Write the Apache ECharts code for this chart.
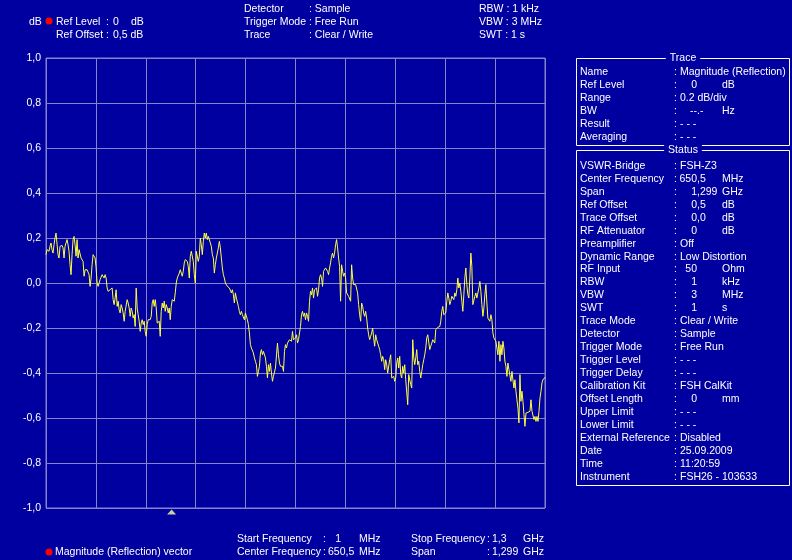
<!DOCTYPE html>
<html><head><meta charset="utf-8">
<script src="https://cdn.jsdelivr.net/npm/echarts@6/dist/echarts.min.js"></script>
<style>html,body{margin:0;padding:0;background:#0000a0}#c{width:792px;height:560px}</style>
</head><body><div id="c"></div>
<script>
// ---- data ----
const startFreqMHz = 1;
const stopFreqMHz = 1300;
const traceSegA = [0.126,0.148,0.156,0.141,0.163,0.178,0.148,0.133,0.170,0.200,
0.222,0.215,0.126,0.111,0.163,0.170,0.167,0.156,0.111,0.163,
0.178,0.193,0.170,0.141,0.081,0.037,0.126,0.193,0.207,0.170,
0.119,0.193,0.111,0.148,0.141,0.111,0.119,0.096,0.030,0.059,
0.067,0.059,0.052,0.037,-0.015,0.022,0.081,0.126,0.119,0.111,
0.067,0.000,-0.015,0.000,0.015,0.022,0.037,0.044,0.022,0.037,
0.022,-0.022,-0.037,-0.037,-0.030,-0.037,-0.022,-0.074,-0.096,-0.067,
-0.030,-0.104,-0.081,-0.119,-0.133,-0.096,-0.111,-0.133,-0.170,-0.126,
-0.133,-0.074,-0.089,-0.111,-0.148,-0.111,-0.126,-0.156,-0.141,-0.193,
-0.022,-0.111,-0.141,-0.170,-0.215,-0.178,-0.163,-0.185,-0.170,-0.215,
-0.237,-0.185,-0.163,-0.156,-0.163,-0.148,-0.089,-0.074,-0.104,-0.074,
-0.111,-0.178,-0.185,-0.170,-0.237,-0.126,-0.089,-0.111,-0.081,-0.126,
-0.096,-0.111,-0.133,-0.111,-0.163,-0.104,-0.074,-0.081];
const traceSegB = [-0.081,-0.044,0.000,0.022,0.030,0.044,0.059,0.044,0.030,0.052,
0.089,0.104,0.111,0.096,0.074,0.022,0.119,0.141,0.133,0.096,
0.037,0.000,0.141,0.141,0.096,0.119,0.200,0.170,0.126,0.185,
0.222,0.200,0.222,0.193,0.207,0.200,0.178,0.163,0.126,0.111,
0.044,0.081,0.111,0.119,0.156,0.185,0.156,0.111,0.067,0.037,
0.022,0.000,-0.007,-0.015,-0.015,-0.022,-0.030,-0.044,-0.030,-0.052,
-0.089,-0.044,-0.067,-0.059,-0.104,-0.126,-0.141,-0.126,-0.141,-0.148,
-0.163,-0.133,-0.141,-0.163,-0.185,-0.222,-0.274,-0.289,-0.281,-0.311,
-0.333,-0.348,-0.363,-0.415,-0.393,-0.370,-0.311,-0.296,-0.319,-0.304,
-0.311,-0.333,-0.370,-0.422,-0.363,-0.393,-0.356,-0.400,-0.437,-0.415,
-0.415,-0.378,-0.370,-0.267,-0.319,-0.356,-0.370,-0.363,-0.370,-0.393,
-0.304,-0.274,-0.289,-0.267,-0.259,-0.252,-0.244,-0.259,-0.215,-0.252,
-0.252,-0.244,-0.230,-0.267,-0.252,-0.222];
const traceSegC = [-0.193,-0.141,-0.126,-0.148,-0.133,-0.163,-0.133,-0.148,-0.170,-0.081,
-0.037,-0.052,-0.022,-0.067,-0.030,-0.037,-0.022,-0.059,-0.030,0.022,
0.037,0.022,-0.015,0.052,0.044,0.067,0.059,0.052,0.037,0.067,
0.089,0.119,0.133,0.111,0.133,0.170,0.193,0.156,0.111,0.074,
-0.081,0.081,0.052,0.030,0.044,0.022,-0.044,-0.052,-0.059,-0.067,
-0.081,0.081,0.022,-0.007,0.000,-0.007,-0.007,-0.044,-0.096,-0.141,
-0.170,-0.089,-0.104,-0.133,-0.148,-0.126,-0.156,-0.200,-0.230,-0.252,
-0.237,-0.222,-0.200,-0.244,-0.281,-0.230,-0.252,-0.244,-0.281,-0.296,
-0.319,-0.348,-0.326,-0.341,-0.385,-0.341,-0.363,-0.400,-0.407,-0.341,
-0.319,-0.422,-0.430,-0.415,-0.437,-0.422,-0.356,-0.333,-0.378,-0.326,
-0.407,-0.422,-0.370,-0.400,-0.363,-0.430,-0.437,-0.541,-0.407,-0.415,
-0.452,-0.467,-0.252,-0.333,-0.363,-0.333,-0.296,-0.363,-0.348,-0.393,
-0.422,-0.393,-0.363,-0.341,-0.319,-0.289,-0.244];
const traceSegD = [-0.230,-0.237,-0.296,-0.281,-0.267,-0.252,-0.259,-0.267,-0.207,-0.200,
-0.197,-0.197,-0.193,-0.170,-0.126,-0.104,-0.141,-0.148,-0.133,-0.081,
-0.044,-0.067,-0.096,-0.081,-0.059,-0.052,-0.074,-0.044,-0.059,-0.030,
0.022,-0.022,0.000,-0.037,-0.081,-0.126,-0.052,0.022,0.067,-0.007,
-0.052,-0.067,0.022,0.133,0.074,-0.096,-0.096,-0.059,-0.044,-0.067,
-0.059,-0.022,0.007,-0.037,-0.096,-0.148,-0.111,-0.052,-0.007,-0.089,
-0.156,-0.148,-0.170,-0.141,-0.163,-0.222,-0.244,-0.252,-0.259,-0.289,
-0.319,-0.259,-0.348,-0.274,-0.319,-0.259,-0.289,-0.348,-0.370,-0.415,
-0.356,-0.385,-0.393,-0.437,-0.393,-0.400,-0.467,-0.430,-0.481,-0.519,
-0.556,-0.622,-0.407,-0.526,-0.481,-0.526,-0.585,-0.637,-0.578,-0.578,
-0.575,-0.570,-0.570,-0.519,-0.570,-0.578,-0.607,-0.593,-0.615,-0.593,
-0.615,-0.570,-0.511,-0.481,-0.444,-0.430,-0.422,-0.419];
const yTickValues = [-1.0,-0.8,-0.6,-0.4,-0.2,0.0,0.2,0.4,0.6,0.8,1.0];
const yTickLabels = ['-1,0','-0,8','-0,6','-0,4','-0,2','0,0','0,2','0,4','0,6','0,8','1,0'];
const markerFreqMHz = [328];

const headerLeft = [['Ref Level', '0', 'dB'], ['Ref Offset', '0,5 dB', '']];
const headerMid = [['Detector', 'Sample'], ['Trigger Mode', 'Free Run'], ['Trace', 'Clear / Write']];
const headerRight = ['RBW : 1 kHz', 'VBW : 3 MHz', 'SWT : 1 s'];

const traceRows = [
  ['Name', 'Magnitude (Reflection)', ''],
  ['Ref Level', '0', 'dB'],
  ['Range', '0.2 dB/div', ''],
  ['BW', '--.-', 'Hz'],
  ['Result', '- - -', ''],
  ['Averaging', '- - -', '']
];
const statusRows = [
  ['VSWR-Bridge', 'FSH-Z3', ''],
  ['Center Frequency', '650,5', 'MHz'],
  ['Span', '1,299', 'GHz'],
  ['Ref Offset', '0,5', 'dB'],
  ['Trace Offset', '0,0', 'dB'],
  ['RF Attenuator', '0', 'dB'],
  ['Preamplifier', 'Off', ''],
  ['Dynamic Range', 'Low Distortion', ''],
  ['RF Input', '50', 'Ohm'],
  ['RBW', '1', 'kHz'],
  ['VBW', '3', 'MHz'],
  ['SWT', '1', 's'],
  ['Trace Mode', 'Clear / Write', ''],
  ['Detector', 'Sample', ''],
  ['Trigger Mode', 'Free Run', ''],
  ['Trigger Level', '- - -', ''],
  ['Trigger Delay', '- - -', ''],
  ['Calibration Kit', 'FSH CalKit', ''],
  ['Offset Length', '0', 'mm'],
  ['Upper Limit', '- - -', ''],
  ['Lower Limit', '- - -', ''],
  ['External Reference', 'Disabled', ''],
  ['Date', '25.09.2009', ''],
  ['Time', '11:20:59', ''],
  ['Instrument', 'FSH26 - 103633', '']
];
const footerRows = [
  ['Start Frequency', '1', 'MHz', 'Stop Frequency', '1,3', 'GHz'],
  ['Center Frequency', '650,5', 'MHz', 'Span', '1,299', 'GHz']
];
const legendText = 'Magnitude (Reflection) vector';

// ---- styling / layout ----
const BG = '#0000a0';
const GRID = '#8484cc';
const FONT = '"Liberation Sans", Arial, sans-serif';
const FS = 10.5;
const WHITE = '#ffffff';

function txt(x, y, s, align) {
  return { type: 'text', x: x, y: y, silent: true,
    style: { text: s, fill: WHITE, font: FS + 'px ' + FONT, align: align || 'left', verticalAlign: 'middle' } };
}
const g = [];
// header
g.push(txt(29, 22, 'dB'));
g.push({ type: 'circle', shape: { cx: 49, cy: 21, r: 3.5 }, style: { fill: '#ff0000' } });
headerLeft.forEach((r, i) => {
  const y = 22 + i * 13;
  g.push(txt(56, y, r[0])); g.push(txt(106, y, ':')); g.push(txt(113, y, r[1]));
  if (r[2]) g.push(txt(131, y, r[2]));
});
headerMid.forEach((r, i) => {
  const y = 9 + i * 13;
  g.push(txt(244, y, r[0])); g.push(txt(309, y, ': ' + r[1]));
});
headerRight.forEach((s, i) => g.push(txt(479, 9 + i * 13, s)));

// panels
function panel(top, bottom, title, rows, firstY) {
  g.push({ type: 'rect', shape: { x: 576.5, y: top + 0.5, width: 213, height: bottom - top },
    style: { fill: 'none', stroke: WHITE, lineWidth: 1 }, silent: true });
  g.push({ type: 'text', x: 683, y: top, silent: true,
    style: { text: title, fill: WHITE, font: FS + 'px ' + FONT, align: 'center', verticalAlign: 'middle',
      backgroundColor: BG, padding: [0, 4] } });
  rows.forEach((r, i) => {
    const y = firstY + i * 12.95;
    g.push(txt(580, y, r[0]));
    g.push(txt(674, y, ':'));
    if (r[2]) {
      const m = r[1].match(/^([^,.]*)([,.].*)?$/);
      g.push(txt(697, y, m[1], 'right'));
      if (m[2]) g.push(txt(697, y, m[2]));
      g.push(txt(722, y, r[2]));
    } else {
      g.push(txt(680, y, r[1]));
    }
  });
}
panel(58, 145, 'Trace', traceRows, 72.5);
panel(150, 485, 'Status', statusRows, 166);

// footer
g.push({ type: 'circle', shape: { cx: 49, cy: 552, r: 3.5 }, style: { fill: '#ff0000' } });
g.push(txt(55, 552, legendText));
footerRows.forEach((r, i) => {
  const y = 539 + i * 13;
  g.push(txt(237, y, r[0]));
  g.push(txt(i === 0 ? 323 : 323, y, ':'));
  if (i === 0) g.push(txt(341, y, r[1], 'right')); else g.push(txt(328, y, r[1]));
  g.push(txt(359, y, r[2]));
  g.push(txt(411, y, r[3]));
  g.push(txt(487, y, ':'));
  g.push(txt(492, y, r[4]));
  g.push(txt(523, y, r[5]));
});

const span = stopFreqMHz - startFreqMHz;
const seriesData = traceDb => traceDb.map((v, i) => [i * span / (traceDb.length - 1), v]);
const traceDb = [].concat(traceSegA, traceSegB, traceSegC, traceSegD);

const chart = echarts.init(document.getElementById('c'), null, { renderer: 'canvas' });
chart.setOption({
  animation: false,
  backgroundColor: BG,
  grid: { left: 46, right: 247, top: 58, bottom: 52, show: true, borderColor: GRID, borderWidth: 1, backgroundColor: 'transparent' },
  xAxis: { type: 'value', min: 0, max: span, interval: span / 10,
    axisLine: { show: false }, axisTick: { show: false }, axisLabel: { show: false },
    splitLine: { show: true, lineStyle: { color: GRID, width: 1 } } },
  yAxis: { type: 'value', min: -1, max: 1, interval: 0.2,
    axisLine: { show: false }, axisTick: { show: false },
    axisLabel: { color: WHITE, fontSize: FS, fontFamily: FONT, margin: 5,
      formatter: v => { let best = 0; yTickValues.forEach((t, k) => { if (Math.abs(t - v) < Math.abs(yTickValues[best] - v)) best = k; }); return yTickLabels[best]; } },
    splitLine: { show: true, lineStyle: { color: GRID, width: 1 } } },
  series: [
    { type: 'line', data: seriesData(traceDb), showSymbol: false, symbol: 'none',
      lineStyle: { color: '#ffff40', width: 1 }, silent: true },
    { type: 'scatter', data: markerFreqMHz.map(f => [f - startFreqMHz, -1]), symbol: 'triangle',
      symbolSize: [9, 5], symbolOffset: [0, 4], itemStyle: { color: '#ffffa0' }, clip: false, silent: true }
  ],
  graphic: g
});
</script></body></html>
